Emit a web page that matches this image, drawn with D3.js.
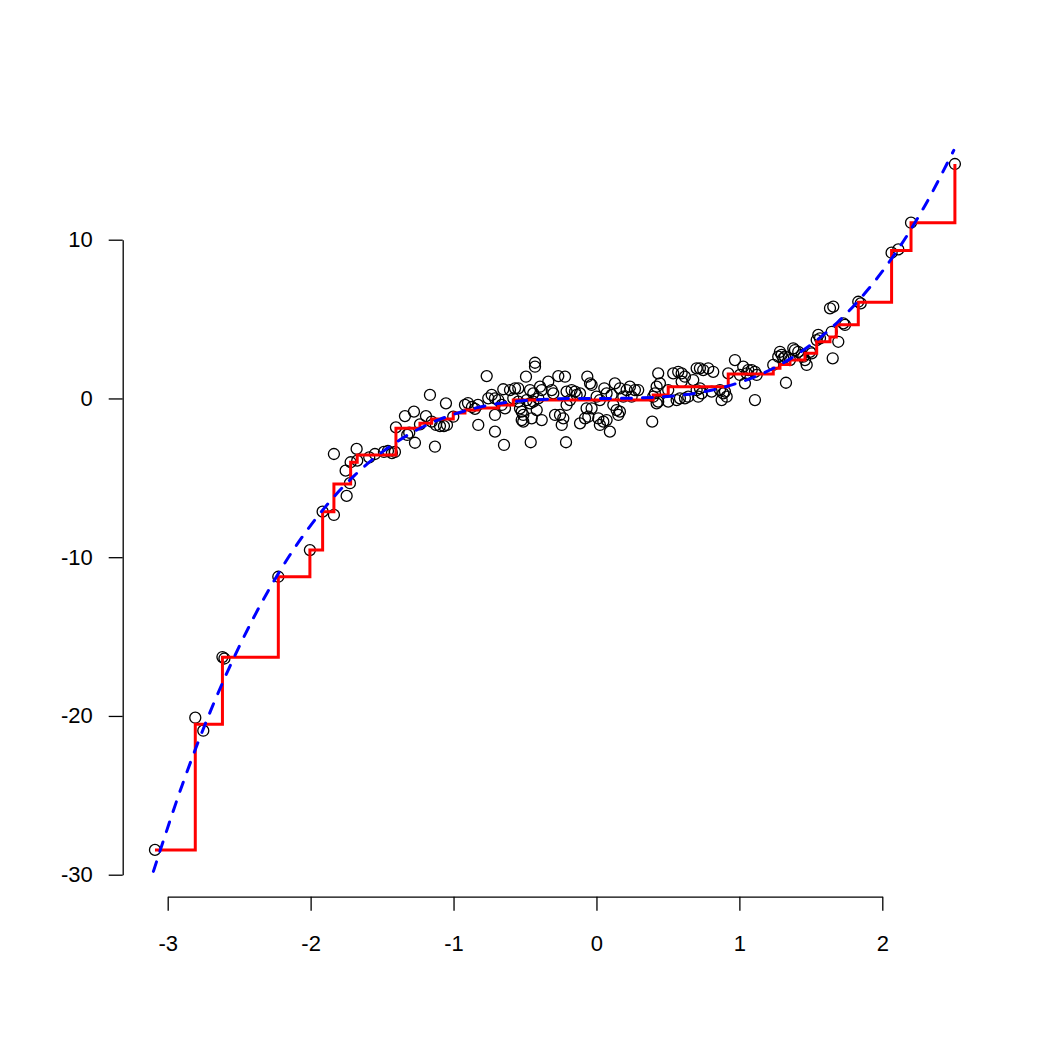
<!DOCTYPE html>
<html>
<head>
<meta charset="utf-8">
<script src="https://cdn.jsdelivr.net/npm/d3@7"></script>
<style>
  body { margin: 0; background: #fff; }
  svg text { font-family: "Liberation Sans", Arial, sans-serif; font-size: 22px; fill: #000; }
</style>
</head>
<body>
<div id="chart"></div>
<script>
// scatter points (x, y)
const ptX = [
  -3.089,-2.807,-2.751,-2.617,-2.603,-2.226,-2.005,-1.916,-1.837,-1.837,-1.748,-1.725,-1.755,-1.720,-1.674,-1.678,-1.590,
  -1.550,-1.487,-1.459,-1.431,-1.410,-1.403,-1.340,-1.277,-1.310,-1.324,-1.270,-1.235,-1.193,-1.165,-1.130,-1.153,-1.123,-1.095,-1.067,-1.046,-1.053,-1.002,-0.920,-0.899,-0.871,-0.850,-0.829,-0.827,
  -0.430,-0.430,-0.768,-0.493,-0.267,-0.220,-0.064,-0.337,-0.045,-0.034,0.129,0.055,
  -0.652,-0.605,-0.570,-0.547,-0.395,-0.383,-0.465,-0.442,-0.313,-0.302,-0.209,-0.174,
  -0.150,-0.139,-0.115,-0.733,-0.757,-0.710,-0.687,-0.663,-0.640,-0.582,-0.547,-0.535,
  -0.523,-0.512,-0.488,-0.465,-0.442,-0.407,-0.418,-0.523,-0.512,-0.453,-0.383,-0.290,
  -0.255,-0.232,-0.243,-0.209,-0.185,-0.115,-0.080,-0.057,-0.069,-0.034,0.013,0.048,
  0.071,0.024,0.094,0.118,0.141,0.153,0.001,0.024,0.106,-0.710,-0.710,-0.647,-0.460,-0.213,
  0.969,1.027,1.062,1.086,1.109,0.922,1.004,1.051,1.121,1.039,1.109,0.701,
  0.724,0.747,0.782,0.817,0.537,0.572,0.596,0.619,0.432,0.596,0.444,0.421,
  0.502,0.677,0.409,0.397,0.432,0.421,0.502,0.561,0.584,0.619,0.642,0.701,
  0.724,0.712,0.736,0.806,0.864,0.887,0.899,0.876,0.911,0.390,
  0.164,0.211,0.234,0.269,0.292,0.188,0.246,0.071,0.164,
  1.832,1.849,1.634,1.657,1.727,1.739,1.646,1.692,1.552,1.564,1.541,1.494,
  1.506,1.653,1.377,1.389,1.412,1.436,1.447,1.459,1.471,1.284,1.296,1.307,
  1.272,1.237,1.319,1.354,1.326,
  2.508,2.201,2.065,2.112
];
const ptY = [
  -28.44,-20.11,-20.93,-16.29,-16.38,-11.23,-9.55,-7.13,-7.34,-3.50,-6.14,-5.34,-4.55,-4.02,-3.92,-3.18,-3.71,
  -3.50,-3.37,-3.31,-3.44,-3.37,-1.82,-1.11,-0.83,-2.16,-2.30,-2.79,-1.63,-1.11,0.22,-3.04,-1.46,-1.67,-1.74,-1.74,-1.67,-0.31,-1.15,-0.41,-0.29,-0.54,-0.66,-0.41,-1.67,
  2.25,2.00,1.41,1.37,1.41,1.37,1.37,1.06,0.95,0.85,0.95,0.64,
  0.58,0.53,0.64,0.64,0.74,0.53,0.53,0.32,0.53,0.32,0.43,0.53,
  0.43,0.22,0.32,0.22,0.01,0.01,-0.10,-0.41,-0.62,0.01,-0.20,-0.62,
  -0.83,-1.04,-0.10,-0.31,-0.20,0.01,-0.73,-1.36,-1.46,-1.25,-1.36,-1.04,
  -1.04,-1.25,-1.67,-0.41,-0.10,-1.57,-1.25,-1.15,-0.62,-0.62,-1.25,-1.46,
  -1.36,-1.67,-2.09,-0.41,-0.73,-1.04,0.11,-0.10,0.22,-1.04,-2.09,-2.93,-2.76,-2.76,
  2.42,2.00,1.79,1.79,1.68,1.58,1.48,1.58,1.48,0.95,-0.10,1.90,
  1.90,1.79,1.90,1.68,1.58,1.68,1.58,1.37,1.58,1.06,0.95,0.74,
  0.53,1.16,0.32,0.11,-0.20,-0.31,-0.20,-0.10,0.01,0.01,0.11,0.53,
  0.64,0.11,0.32,0.43,0.53,0.32,0.43,-0.10,0.11,-1.46,
  0.64,0.53,0.74,0.53,0.53,0.11,0.11,0.32,-0.83,
  6.09,5.99,5.68,5.78,4.73,4.63,4.20,3.57,4.00,3.79,3.68,2.94,
  2.84,2.53,3.16,3.05,2.94,2.74,2.63,2.42,2.11,2.94,2.74,2.53,
  2.63,2.11,2.63,2.42,0.99,
  14.77,11.07,9.18,9.39
];

// red step fit: knots where the level changes
const stepX = [-3.089,-2.807,-2.617,-2.226,-2.005,-1.916,-1.837,-1.720,-1.674,-1.403,-1.235,-1.153,-1.002,-0.920,-0.829,-0.687,-0.582,
  0.397,0.502,0.922,1.237,1.284,1.354,1.459,1.541,1.634,1.678,1.832,2.065,2.201,2.508];
const stepY = [-28.44,-20.52,-16.31,-11.23,-9.55,-7.13,-5.39,-4.02,-3.56,-1.88,-1.57,-1.29,-0.92,-0.73,-0.60,-0.41,-0.10,
  0.22,0.74,1.54,1.90,2.14,2.42,2.85,3.57,3.87,4.65,6.06,9.32,11.07,14.77];

// blue dashed curve
const curveX = [-3.1,-2.9,-2.7,-2.5,-2.3,-2.1,-1.9,-1.7,-1.5,-1.3,-1.1,-0.9,-0.7,-0.5,-0.3,-0.1,0.1,0.3,0.5,0.7,0.9,1.1,1.3,1.5,1.7,1.9,2.1,2.3,2.5];
const curveY = [-29.79,-24.39,-19.68,-15.63,-12.17,-9.26,-6.86,-4.91,-3.38,-2.20,-1.33,-0.73,-0.34,-0.13,-0.03,0.00,0.00,0.03,0.13,0.34,0.73,1.33,2.20,3.38,4.91,6.86,9.26,12.17,15.63];

const xTicks = [-3, -2, -1, 0, 1, 2];
const yTicks = [-30, -20, -10, 0, 10];

const width = 1050, height = 1050;
const svg = d3.select("#chart").append("svg")
  .attr("width", width)
  .attr("height", height);

svg.append("rect").attr("width", width).attr("height", height).attr("fill", "#fff");

const x = d3.scaleLinear().domain([-3, 2]).range([167.7, 882.3]);
const y = d3.scaleLinear().domain([-30, 10]).range([874.7, 239.7]);

// axes, R style: line spans the ticks only
const xAxis = svg.append("g")
  .attr("transform", "translate(0,896.7)")
  .call(d3.axisBottom(x).tickValues(xTicks).tickFormat(d => String(d))
    .tickSize(14).tickSizeOuter(0).tickPadding(25));
const yAxis = svg.append("g")
  .attr("transform", "translate(122.7,0)")
  .call(d3.axisLeft(y).tickValues(yTicks).tickFormat(d => String(d))
    .tickSize(14).tickSizeOuter(0).tickPadding(16));

[xAxis, yAxis].forEach(g => {
  g.attr("font-size", null).attr("font-family", null);
  g.selectAll("path, line").attr("stroke", "#000").attr("stroke-width", 1.3);
  g.selectAll("text").attr("fill", "#000");
});

// points
const pts = ptX.map((v, i) => ({ x: v, y: ptY[i] }));
svg.append("g")
  .selectAll("circle")
  .data(pts)
  .enter().append("circle")
  .attr("cx", d => x(d.x))
  .attr("cy", d => y(d.y))
  .attr("r", 5.5)
  .attr("fill", "none")
  .attr("stroke", "#000")
  .attr("stroke-width", 1.3);

// red step line
const steps = stepX.map((v, i) => [v, stepY[i]]);
svg.append("path")
  .attr("d", d3.line().x(d => x(d[0])).y(d => y(d[1])).curve(d3.curveStepAfter)(steps))
  .attr("fill", "none")
  .attr("stroke", "#ff0000")
  .attr("stroke-width", 3);

// blue dashed curve
const cur = curveX.map((v, i) => [v, curveY[i]]);
svg.append("path")
  .attr("d", d3.line().x(d => x(d[0])).y(d => y(d[1])).curve(d3.curveCatmullRom)(cur))
  .attr("fill", "none")
  .attr("stroke", "#0000ff")
  .attr("stroke-width", 3)
  .attr("stroke-linecap", "round")
  .attr("stroke-dasharray", "10,11");
</script>
</body>
</html>
